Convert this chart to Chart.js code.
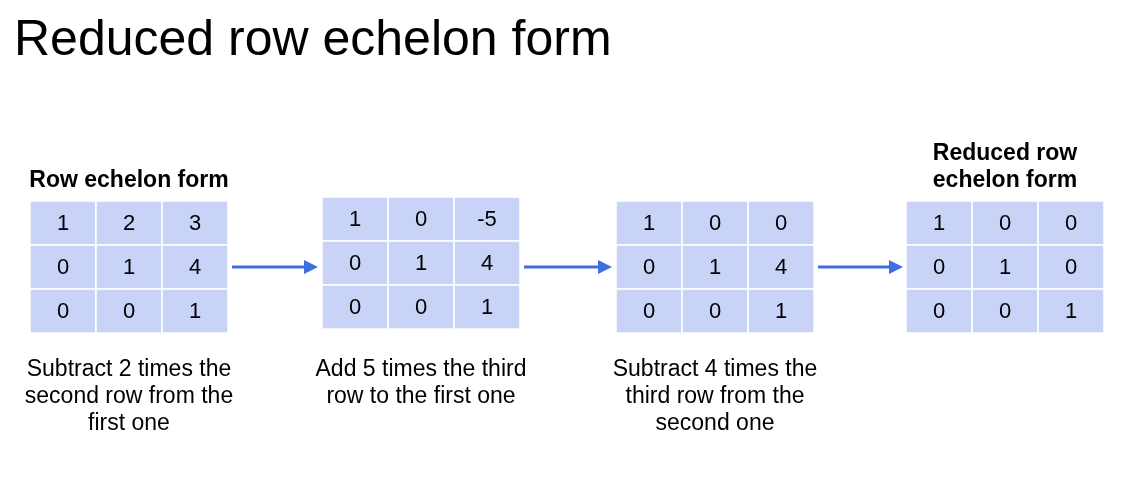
<!DOCTYPE html>
<html>
<head>
<meta charset="utf-8">
<script src="https://cdn.jsdelivr.net/npm/chart.js@4"></script>
<style>
  html, body { margin: 0; padding: 0; background: #fff; }
  #wrap { width: 1147px; height: 477px; }
</style>
</head>
<body>
<div id="wrap"><canvas id="c"></canvas></div>
<script>
// matrices, left to right
const matrices = [
  [["1", "2", "3"], ["0", "1", "4"], ["0", "0", "1"]],
  [["1", "0", "-5"], ["0", "1", "4"], ["0", "0", "1"]],
  [["1", "0", "0"], ["0", "1", "4"], ["0", "0", "1"]],
  [["1", "0", "0"], ["0", "1", "0"], ["0", "0", "1"]]
];
const matrixLeft = [30, 322, 616, 906];
const matrixTop = [201, 197, 201, 201];
const headings = [["Row echelon form"], [], [], ["Reduced row", "echelon form"]];
const captions = [
  ["Subtract 2 times the", "second row from the", "first one"],
  ["Add 5 times the third", "row to the first one"],
  ["Subtract 4 times the", "third row from the", "second one"],
  []
];
const arrows = [[232, 318], [524, 612], [818, 903]];
const arrowY = 267;
const cellW = 66, cellH = 44;

const arrowSets = arrows.map(a => ({
  type: "scatter",
  data: [{ x: a[0], y: arrowY }, { x: a[1] - 10, y: arrowY }],
  showLine: true,
  borderColor: "#3d6fe0",
  borderWidth: 3,
  pointRadius: 0
}));

const drawPlugin = {
  id: "matrices",
  afterDatasetsDraw(chart) {
    const ctx = chart.ctx;
    const xs = chart.scales.x, ys = chart.scales.y;
    ctx.save();
    // arrow heads
    ctx.fillStyle = "#3d6fe0";
    arrows.forEach(a => {
      const tx = xs.getPixelForValue(a[1]), ty = ys.getPixelForValue(arrowY);
      ctx.beginPath();
      ctx.moveTo(tx, ty);
      ctx.lineTo(tx - 14, ty - 7);
      ctx.lineTo(tx - 14, ty + 7);
      ctx.closePath();
      ctx.fill();
    });
    matrices.forEach((m, k) => {
      const x0 = matrixLeft[k], y0 = matrixTop[k];
      m.forEach((row, r) => row.forEach((v, c) => {
        const px = xs.getPixelForValue(x0 + c * cellW);
        const py = ys.getPixelForValue(y0 + r * cellH);
        ctx.fillStyle = "#c9d3f8";
        ctx.fillRect(px, py, cellW, cellH);
        ctx.strokeStyle = "#ffffff";
        ctx.lineWidth = 1.5;
        ctx.strokeRect(px, py, cellW, cellH);
        ctx.fillStyle = "#000";
        ctx.font = "22px Arial, 'Liberation Sans', sans-serif";
        ctx.textAlign = "center";
        ctx.textBaseline = "middle";
        ctx.fillText(v, px + cellW / 2, py + cellH / 2 + 1);
      }));
      const cx = xs.getPixelForValue(x0 + 1.5 * cellW);
      ctx.font = "bold 23px Arial, 'Liberation Sans', sans-serif";
      ctx.textBaseline = "alphabetic";
      const h = headings[k];
      h.forEach((t, i) => {
        ctx.fillText(t, cx, ys.getPixelForValue(y0 - 14 - (h.length - 1 - i) * 27));
      });
      ctx.font = "23px Arial, 'Liberation Sans', sans-serif";
      captions[k].forEach((t, i) => {
        ctx.fillText(t, cx, ys.getPixelForValue(376 + i * 27));
      });
    });
    ctx.font = "50px Arial, 'Liberation Sans', sans-serif";
    ctx.textAlign = "left";
    ctx.fillText("Reduced row echelon form", xs.getPixelForValue(14), ys.getPixelForValue(55));
    ctx.restore();
  }
};

new Chart(document.getElementById("c"), {
  type: "scatter",
  data: { datasets: arrowSets },
  options: {
    responsive: true,
    maintainAspectRatio: false,
    animation: false,
    layout: { padding: 0 },
    scales: {
      x: { type: "linear", min: 0, max: 1147, display: false },
      y: { type: "linear", min: 0, max: 477, reverse: true, display: false }
    },
    plugins: { legend: { display: false }, tooltip: { enabled: false } }
  },
  plugins: [drawPlugin]
});
</script>
</body>
</html>
